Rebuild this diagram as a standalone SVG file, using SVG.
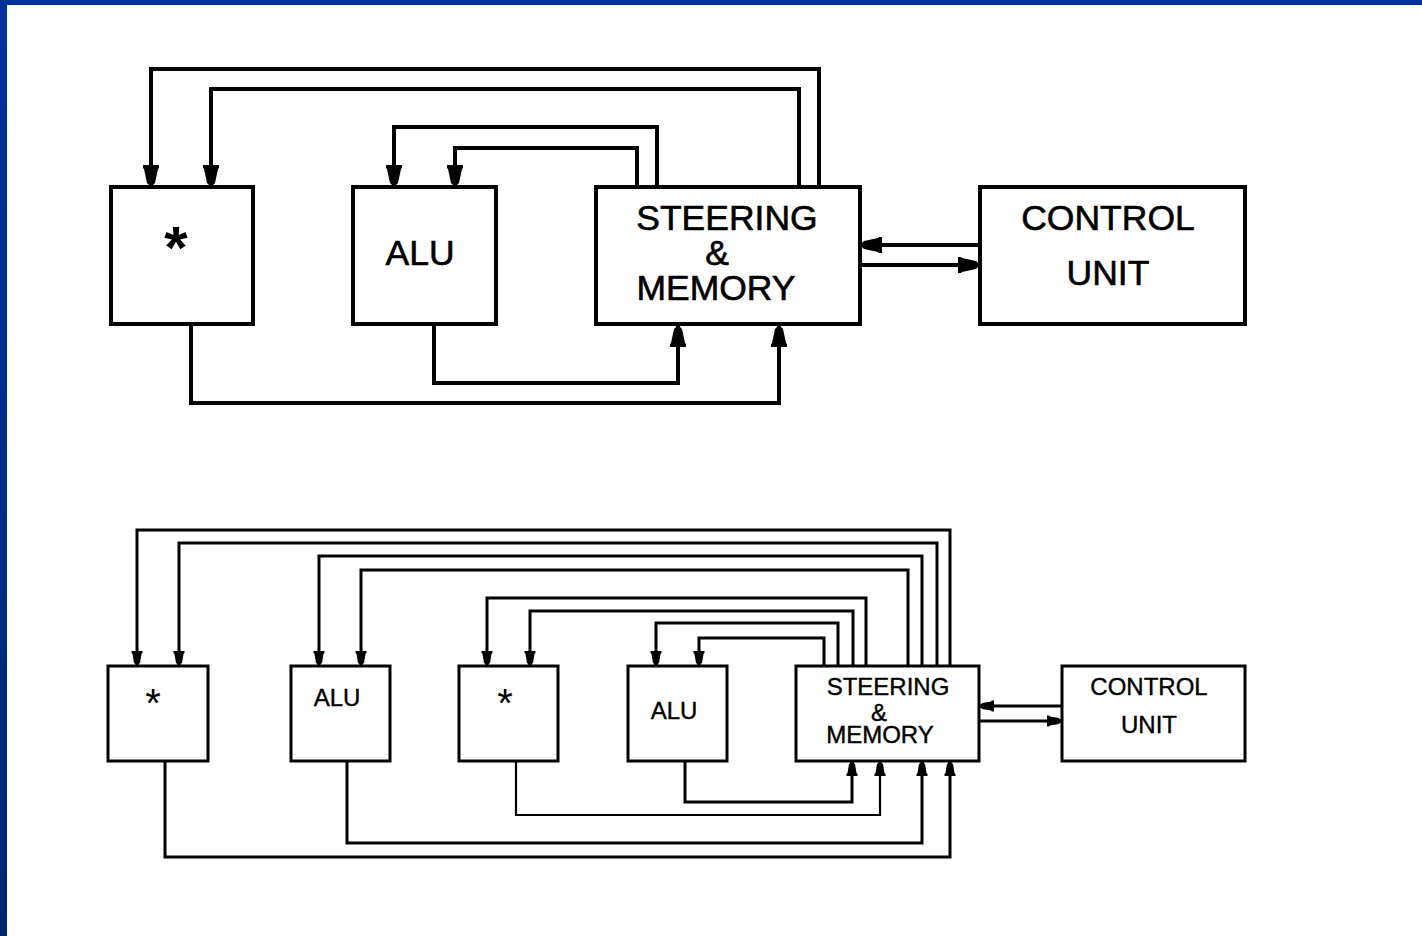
<svg xmlns="http://www.w3.org/2000/svg" width="1422" height="936" viewBox="0 0 1422 936">
<style>
.box{fill:#fff;stroke:#000;stroke-width:4}
.sbox{fill:#fff;stroke:#000;stroke-width:3}
.w{fill:none;stroke:#000;stroke-width:4;stroke-linejoin:miter}
.sw{fill:none;stroke:#000;stroke-width:3;stroke-linejoin:miter}
.t{font-family:"Liberation Sans",Arial,sans-serif;font-size:35.5px;fill:#000;stroke:#000;stroke-width:0.6;text-anchor:middle}
.st{font-family:"Liberation Sans",Arial,sans-serif;font-size:24px;fill:#000;stroke:#000;stroke-width:0.4;text-anchor:middle}
</style>
<defs>
<linearGradient id="lb" x1="0" y1="0" x2="0" y2="1">
<stop offset="0" stop-color="#003399"/>
<stop offset="1" stop-color="#002670"/>
</linearGradient>
<marker id="ah" markerUnits="userSpaceOnUse" viewBox="-25 -10 30 20" refX="0" refY="0" markerWidth="30" markerHeight="20" orient="auto" overflow="visible">
<path d="M3,-1.5 L3,1.5 L-2,2 L-4,4 L-18,7 L-19,8 L-22,8 L-22,-8 L-19,-8 L-18,-7 L-4,-4 L-2,-2 Z" fill="#000"/>
</marker>
<marker id="sah" markerUnits="userSpaceOnUse" viewBox="-25 -10 30 20" refX="0" refY="0" markerWidth="30" markerHeight="20" orient="auto" overflow="visible">
<path d="M2,-1.2 L2,1.2 L-2,1.5 L-3,3 L-12,4.5 L-13,5.5 L-15,5.5 L-15,-5.5 L-13,-5.5 L-12,-4.5 L-3,-3 L-2,-1.5 Z" fill="#000"/>
</marker>
</defs>
<rect x="0" y="0" width="1422" height="936" fill="#fff"/>
<rect x="0" y="0" width="1422" height="5" fill="#003399"/>
<rect x="0" y="0" width="7" height="936" fill="url(#lb)"/>

<g id="connectors">
<g id="top-connectors">
<path class="w" d="M819,187 V69 H151 V187" marker-end="url(#ah)"/>
<path class="w" d="M799,187 V89 H211 V187" marker-end="url(#ah)"/>
<path class="w" d="M657,187 V127 H394 V187" marker-end="url(#ah)"/>
<path class="w" d="M637,187 V148 H455 V187" marker-end="url(#ah)"/>
<path class="w" d="M191,325 V403 H779 V325" marker-end="url(#ah)"/>
<path class="w" d="M434,325 V383 H678 V325" marker-end="url(#ah)"/>
<path class="w" d="M980,245 H860" marker-end="url(#ah)"/>
<path class="w" d="M860,265 H980" marker-end="url(#ah)"/>
</g>
<g id="bottom-connectors">
<path class="sw" d="M950,666 V530 H137 V666" marker-end="url(#sah)"/>
<path class="sw" d="M937,666 V543 H179 V666" marker-end="url(#sah)"/>
<path class="sw" d="M922,666 V556 H319 V666" marker-end="url(#sah)"/>
<path class="sw" d="M908,666 V570 H361 V666" marker-end="url(#sah)"/>
<path class="sw" d="M866,666 V598 H487 V666" marker-end="url(#sah)"/>
<path class="sw" d="M853,666 V611 H530 V666" marker-end="url(#sah)"/>
<path class="sw" d="M838,666 V623 H656 V666" marker-end="url(#sah)"/>
<path class="sw" d="M824,666 V638 H699 V666" marker-end="url(#sah)"/>
<path class="sw" d="M685,761 V802 H852 V761" marker-end="url(#sah)"/>
<path class="sw" d="M516,761 V815 H880 V761" style="stroke-width:2.2" marker-end="url(#sah)"/>
<path class="sw" d="M347,761 V843 H922 V761" marker-end="url(#sah)"/>
<path class="sw" d="M165,761 V857 H950 V761" marker-end="url(#sah)"/>
<path class="sw" d="M1062,706 H979" marker-end="url(#sah)"/>
<path class="sw" d="M979,721 H1062" marker-end="url(#sah)"/>
</g>
</g>

<g id="top-mult">
<rect class="box" x="111" y="187" width="142" height="137"/>
<text class="t" x="176" y="268" style="font-size:60px;font-weight:bold;stroke-width:0">*</text>
</g>
<g id="top-alu">
<rect class="box" x="353" y="187" width="143" height="137"/>
<text class="t" x="420" y="265">ALU</text>
</g>
<g id="top-steering">
<rect class="box" x="596" y="187" width="264" height="137"/>
<text class="t" x="727" y="230">STEERING</text>
<text class="t" x="717" y="265">&amp;</text>
<text class="t" x="716" y="300">MEMORY</text>
</g>
<g id="top-control">
<rect class="box" x="980" y="187" width="265" height="137"/>
<text class="t" x="1108" y="230">CONTROL</text>
<text class="t" x="1108" y="285">UNIT</text>
</g>

<g id="bot-mult1">
<rect class="sbox" x="108" y="666" width="100" height="95"/>
<text class="st" x="153" y="717" style="font-size:40px;stroke-width:0">*</text>
</g>
<g id="bot-alu1">
<rect class="sbox" x="291" y="666" width="99" height="95"/>
<text class="st" x="337" y="706">ALU</text>
</g>
<g id="bot-mult2">
<rect class="sbox" x="459" y="666" width="99" height="95"/>
<text class="st" x="505" y="717" style="font-size:40px;stroke-width:0">*</text>
</g>
<g id="bot-alu2">
<rect class="sbox" x="628" y="666" width="99" height="95"/>
<text class="st" x="674" y="719">ALU</text>
</g>
<g id="bot-steering">
<rect class="sbox" x="796" y="666" width="183" height="95"/>
<text class="st" x="888" y="695">STEERING</text>
<text class="st" x="879" y="721">&amp;</text>
<text class="st" x="880" y="743">MEMORY</text>
</g>
<g id="bot-control">
<rect class="sbox" x="1062" y="666" width="183" height="95"/>
<text class="st" x="1149" y="695">CONTROL</text>
<text class="st" x="1149" y="733">UNIT</text>
</g>
</svg>
